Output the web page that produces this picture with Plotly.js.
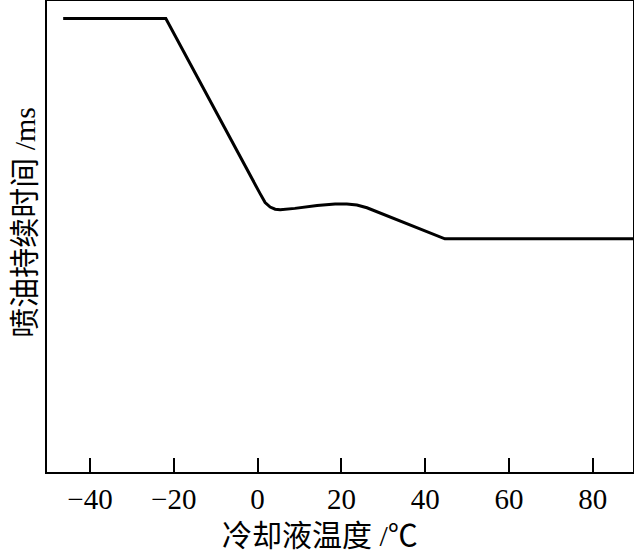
<!DOCTYPE html>
<html>
<head>
<meta charset="utf-8">
<script src="https://cdn.plot.ly/plotly-3.0.1.min.js"></script>
<style>html,body{margin:0;padding:0;background:#fff;}#chart{width:634px;height:553px;}</style>
</head>
<body>
<div id="chart"></div>
<script>
// Coolant temperature (°C)
var temperature = [-46.4, -21.9, 0.6, 1.8, 3.0, 4.2, 5.4, 8.9, 14.2, 18.5, 21.3, 23.7, 26.1, 44.7, 89.6];
// Injection duration (relative units, axis has no scale)
var duration = [96.3, 96.3, 59.1, 57.2, 56.25, 55.8, 55.7, 55.97, 56.6, 56.9, 56.9, 56.7, 56.1, 49.5, 49.5];
var xTickVals = [-40, -20, 0, 20, 40, 60, 80];
var xTickText = ['\u221240', '\u221220', '0', '20', '40', '60', '80'];
var xTitle = '冷却液温度 /℃';
var yTitle = '喷油持续时间 /ms';

var fontFam = '"Liberation Serif", "Times New Roman", "Noto Sans CJK SC", serif';

var trace = {
  x: temperature,
  y: duration,
  type: 'scatter',
  mode: 'lines',
  line: {color: '#000', width: 3, shape: 'linear'},
  hoverinfo: 'skip'
};

var layout = {
  width: 634,
  height: 553,
  margin: {l: 47, r: 1, t: 1, b: 81},
  paper_bgcolor: '#fff',
  plot_bgcolor: '#fff',
  showlegend: false,
  font: {family: fontFam, color: '#000', size: 29},
  xaxis: {
    range: [-50.26, 89.6],
    tickvals: xTickVals,
    ticktext: xTickText,
    ticks: 'inside',
    ticklen: 14,
    tickwidth: 2,
    tickcolor: '#000',
    showline: true,
    linecolor: '#000',
    linewidth: 2,
    mirror: true,
    showgrid: false,
    zeroline: false,
    tickfont: {family: fontFam, size: 29, color: '#000'},
    automargin: false
  },
  yaxis: {
    range: [0, 100],
    showticklabels: false,
    ticks: '',
    showline: true,
    linecolor: '#000',
    linewidth: 2,
    mirror: true,
    showgrid: false,
    zeroline: false,
    automargin: false
  },
  annotations: [
    {
      text: xTitle, xref: 'paper', yref: 'paper', x: 0.466, y: -0.134,
      xanchor: 'center', yanchor: 'middle', showarrow: false,
      font: {family: fontFam, size: 30, color: '#000'}
    },
    {
      text: yTitle, xref: 'paper', yref: 'paper', x: -0.0375, y: 0.529,
      xanchor: 'center', yanchor: 'middle', showarrow: false, textangle: -90,
      font: {family: fontFam, size: 30, color: '#000'}
    }
  ]
};

Plotly.newPlot('chart', [trace], layout, {displayModeBar: false, staticPlot: true});
</script>
</body>
</html>
